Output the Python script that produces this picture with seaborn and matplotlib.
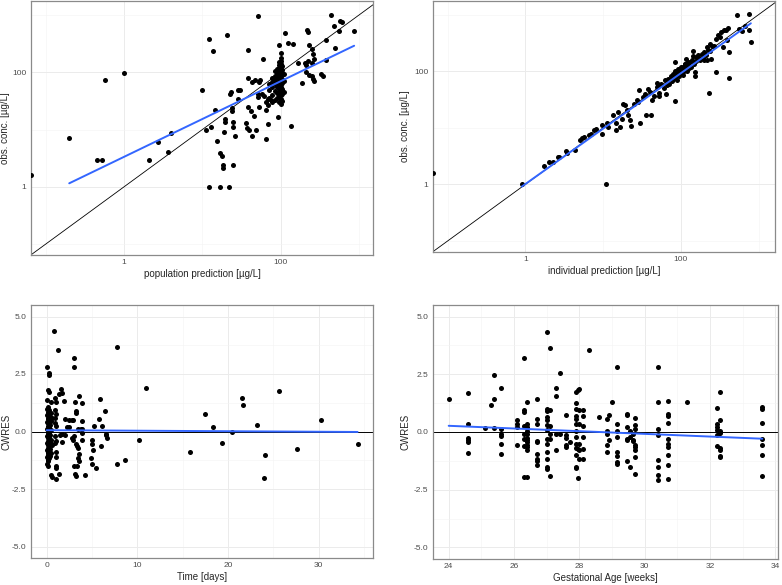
import numpy as np
import pandas as pd
import matplotlib
matplotlib.use("Agg")
import matplotlib.pyplot as plt
import matplotlib.ticker as mticker
import seaborn as sns

sns.set_theme(style="white")
plt.rcParams["font.family"] = ["Liberation Sans", "DejaVu Sans"]

# ---- data ----
# population prediction vs observed (ug/L); pred 0 -> drawn at the left edge
pop_pairs = [
    (0, 1.6), (0.2, 7.2), (0.45, 3.0), (0.52, 3.0), (0.58, 75), (1.0, 96), (2.1, 2.95),
    (2.7, 6.0), (3.6, 4.0), (4.0, 8.7), (10, 50), (11, 9.8), (12.2, 1.0), (12.3, 389),
    (12.9, 11.2), (13.8, 234), (14.5, 21.9), (15.5, 6.2), (17, 1.0), (17, 3.9), (17.8, 3.5),
    (18.2, 2.45), (18.2, 2.1), (19, 9.1), (19.5, 15.5), (19.5, 13.5), (20.4, 457), (21.9, 1.0),
    (22.4, 41.7), (23.4, 44.7), (24, 21.4), (24, 23.4), (24.5, 13.8), (24.5, 11), (24.5, 2.4),
    (26.3, 7.6), (28.2, 50), (30.2, 49), (28.8, 34.7), (36.3, 13.2), (37.2, 10.7), (38, 81),
    (38, 245), (38.9, 24.5), (39.8, 9.8), (41.7, 21.4), (42.7, 67.6), (43.7, 7.6), (45.7, 17),
    (46.8, 72.4), (49, 9.8), (51.3, 977), (51.3, 41.7), (51.3, 37), (52.5, 25), (53.7, 67.6),
    (55, 72.4), (60, 170), (66, 6.8), (69, 12.6), (69, 34.7), (66, 22), (93, 16.6), (95, 302),
    (102, 219), (115, 479), (123, 331), (135, 11.7), (145, 316), (166, 148), (186, 66),
    (204, 148), (214, 132), (224, 159), (234, 302), (251, 257), (263, 209), (269, 170),
    (251, 148), (214, 100), (234, 91), (251, 85), (263, 78), (269, 72), (324, 95), (347, 87),
    (380, 162), (380, 363), (437, 1023), (479, 646), (490, 263), (550, 525), (575, 776),
    (603, 759), (870, 525), (219, 550), (224, 501),
    (62, 38), (66, 30), (70, 27), (75, 33), (58, 42),
]
# dense cluster around pred ~ 100: pred -> observed values
pop_cluster = {
    100: [28, 34, 40, 47, 55, 63, 72, 80, 90, 100, 112, 125, 140, 160, 180],
    96: [30, 38, 45, 52, 60, 68, 76, 85, 95, 106, 118, 132, 150],
    105: [32, 42, 52, 64, 78, 92, 110, 130],
    90: [35, 44, 56, 70, 82, 98, 115],
    85: [33, 48, 62, 75, 88, 105],
    78: [30, 40, 55, 68, 80],
    72: [36, 50, 62],
    110: [45, 70, 95],
}

# individual prediction vs observed (ug/L)
ind_pairs = [
    (0, 1.6), (0.9, 1.0), (11, 1.0), (1.74, 2.15), (2.03, 2.46), (2.3, 2.45), (2.6, 3.0),
    (2.75, 3.0), (3.3, 3.9), (3.4, 3.55), (4.4, 4.0), (5.0, 6.1), (5.3, 6.6), (5.7, 7.0),
    (6.5, 7.5), (6.9, 7.8), (7.6, 9.2), (8.1, 9.4), (9.8, 7.8), (9.8, 11.2), (11.3, 12),
    (11.5, 10.2), (13.5, 16.7), (14.6, 12), (14.8, 9.2), (15.6, 19.2), (16.7, 10.2),
    (17.4, 14.1), (18.2, 26), (19, 25), (20, 21), (21, 16.5), (22, 14), (23, 10.7), (25, 26),
    (27, 31), (28, 28), (29, 46), (29.5, 12.3), (33, 35), (35, 40), (38, 48), (40, 43),
    (36, 16.7), (41, 16.7), (42, 31), (45, 36), (49, 62), (51, 56), (52, 37), (64, 39),
    (84, 30), (84, 145), (112, 135), (118, 166), (123, 148), (150, 96), (151, 83), (145, 186),
    (145, 229), (174, 155), (200, 155), (214, 155), (229, 41.5), (245, 166), (282, 96),
    (214, 263), (240, 302), (270, 282), (282, 372), (302, 437), (316, 398), (324, 490),
    (355, 525), (380, 525), (407, 575), (347, 263), (417, 214), (417, 76), (389, 355),
    (525, 977), (562, 550), (603, 513), (661, 631), (759, 1023), (741, 525), (794, 324),
    (50, 52), (52, 42), (56, 60), (60, 50), (63, 69), (66, 56), (69, 72), (71, 60), (74, 83),
    (76, 66), (79, 89), (79, 72), (83, 76), (85, 100), (87, 85), (89, 71), (91, 95), (93, 110),
    (95, 83), (98, 102), (100, 91), (100, 120), (102, 107), (105, 87), (107, 117), (110, 100),
    (112, 132), (115, 107), (117, 120), (120, 100), (123, 132), (126, 115), (132, 145),
    (135, 120), (141, 158), (148, 132), (155, 178), (158, 151), (166, 191), (178, 166),
    (186, 200), (191, 174), (200, 214), (209, 191), (224, 240), (240, 224), (251, 275),
]

# CWRES vs time (days): time -> CWRES values
time_cwres = {
    0.0: [2.8, 1.36, 1.0, 0.7, 0.4, 0.1, -0.2, -0.5, -0.8, -1.1, -1.4],
    0.1: [0.75, 0.55, 0.25, 0.0, -0.3, -0.6, -0.9, -1.2, -1.25],
    0.2: [1.82, 1.05, 0.85, 0.6, 0.35, 0.15, -0.1, -0.4, -0.7, -1.0, -1.3, -1.5, -0.95],
    0.26: [2.54],
    0.3: [2.44, 1.7, 0.95, 0.5, 0.2, -0.05, -0.25, -0.55, -0.85, -1.15, -0.65],
    0.4: [0.65, 0.3, -0.15, -0.45, -0.75, -1.05],
    0.5: [1.3, 0.8, 0.45, 0.05, -0.35, -0.95, -1.9],
    0.65: [0.6, -0.6, -1.98],
    0.8: [4.35],
    0.9: [1.46, 0.95, 0.59, 0.38, -0.2, -0.5],
    1.0: [1.3, 0.74, 0.23, -0.4, -0.9, -1.1, -1.5, -1.6, -2.05],
    1.28: [3.55],
    1.35: [1.65, -1.84],
    1.47: [-0.17],
    1.58: [1.85],
    1.65: [1.68, -0.13],
    1.72: [-0.45],
    1.9: [1.32],
    2.0: [0.55, -0.17],
    2.3: [0.2],
    2.5: [0.52, 0.2],
    2.75: [0.52, -0.27],
    2.9: [0.52, -0.35],
    3.0: [3.2, 2.8, -0.2, -1.5],
    3.1: [1.3, -1.86],
    3.2: [0.88, 0.81, -0.56, -1.94],
    3.4: [-0.64, -1.5],
    3.5: [0.13, -0.71, -1.14],
    3.56: [1.56],
    3.6: [-0.97, -1.29],
    3.8: [0.13],
    3.96: [1.24, 0.45, 0.13, -0.06, -0.35],
    4.2: [-1.9],
    4.95: [-1.14],
    5.0: [-1.43],
    5.06: [-0.35, -0.56],
    5.1: [-0.81],
    5.24: [0.26],
    5.5: [-1.58],
    5.76: [0.55],
    5.87: [1.43],
    6.0: [-0.64],
    6.1: [0.23],
    6.4: [0.91],
    6.5: [-0.09],
    6.6: [-0.17],
    6.7: [-0.27],
    7.8: [3.67, -1.43],
    8.6: [-1.24],
    10.2: [-0.35],
    11.0: [1.89],
    15.8: [-0.9],
    17.5: [0.74],
    18.4: [0.2],
    19.3: [-0.49],
    20.5: [-0.03],
    21.6: [1.46],
    21.7: [1.14],
    23.2: [0.3],
    24.0: [-2.04],
    24.1: [-1.03],
    25.6: [1.76],
    27.6: [-0.74],
    30.3: [0.49],
    34.3: [-0.56],
}

# CWRES vs gestational age (weeks): GA -> CWRES values
ga_cwres = {
    24.0: [1.43],
    24.6: [1.7, 0.35, -0.25, -0.35, -0.45, -0.9],
    25.1: [0.18],
    25.3: [1.15],
    25.4: [2.47, 1.45, 0.17],
    25.6: [1.9, 0.15, -0.1, -0.18, -0.5, -0.95],
    26.1: [0.5, 0.35, 0.2, -0.55],
    26.3: [3.2, 0.95, 0.85, 0.25, -0.1, -0.3, -0.6, -1.95],
    26.4: [1.28, 0.35, 0.2, 0.05, -0.1, -0.25, -0.35, -0.45, -0.55, -0.65, -0.8, -1.95],
    26.7: [1.45, 0.55, 0.35, -0.4, -0.45, -0.95, -1.15, -1.25, -1.45],
    27.0: [4.35, 1.0, 0.9, 0.65, 0.5, 0.3, 0.1, -0.3, -0.5, -0.85, -1.15, -1.5, -1.6],
    27.1: [3.65, 0.95, 0.25, -0.1, -0.3, -1.9],
    27.3: [1.9, 1.58, -0.1, -0.8],
    27.4: [2.55, -0.1],
    27.6: [0.75, -0.15, -0.25, -0.55, -0.65],
    27.7: [-0.45],
    27.9: [1.75, 1.25, 1.0, 0.7, 0.55, 0.35, 0.05, -0.2, -0.5, -0.7, -1.0, -1.5, -1.55],
    27.95: [1.8, -0.75, -2.0],
    28.0: [1.85, 0.95, 0.35, -0.5, -0.8, -1.15],
    28.1: [0.95, 0.7, 0.25, -0.2, -0.75, -1.15],
    28.3: [3.57],
    28.6: [0.65],
    28.85: [0.55, 0.05, -0.1, -0.55, -0.85],
    28.9: [0.75, -0.35],
    29.0: [1.32],
    29.15: [2.82, 0.35, 0.05, -0.2, -0.85, -1.05, -1.3, -1.4],
    29.45: [0.8, 0.75, 0.2, -0.3, -0.35, -1.25],
    29.55: [0.05, -0.2, -1.5],
    29.65: [-0.1, -0.35, -0.4],
    29.7: [0.6, 0.3, 0.15, -0.55, -0.65, -0.8, -1.1, -1.8],
    30.4: [2.82, 1.3, 0.15, -0.15, -1.2, -1.5, -1.85, -2.1],
    30.7: [1.35, 0.8, 0.7, 0.4, -0.3, -0.5, -0.65, -1.0, -1.45, -2.05],
    31.3: [1.28],
    32.2: [1.02, 0.35, 0.2, 0.1, -0.15, -0.6],
    32.3: [1.75, 0.5, 0.05, -0.05, -0.7, -0.8, -1.05, -1.1],
    33.6: [1.1, 1.0, 0.4, -0.3, -0.55, -1.0, -1.9],
}

# ---- build frames ----
pop_rows = list(pop_pairs) + [(p, o) for p, vals in pop_cluster.items() for o in vals]
pop_df = pd.DataFrame(pop_rows, columns=["pred", "obs"])
ind_df = pd.DataFrame(ind_pairs, columns=["pred", "obs"])
time_df = pd.DataFrame([(t, c) for t, vals in time_cwres.items() for c in vals], columns=["time", "cwres"])
ga_df = pd.DataFrame([(g, c) for g, vals in ga_cwres.items() for c in vals], columns=["ga", "cwres"])

W, H = 782, 585
fig = plt.figure(figsize=(W / 100, H / 100), dpi=100)
fig.patch.set_facecolor("white")


def add_ax(left, top, right, bottom):
    return fig.add_axes([left / W, 1 - bottom / H, (right - left) / W, (bottom - top) / H])


BLUE = "#3366FF"


def style(ax):
    ax.set_facecolor("white")
    for s in ax.spines.values():
        s.set_color("#8a8a8a")
        s.set_linewidth(0.9)
    ax.grid(True, which="major", color="#ebebeb", lw=0.7)
    ax.grid(True, which="minor", color="#f3f3f3", lw=0.4)
    ax.set_axisbelow(True)
    ax.tick_params(which="major", length=2, width=0.5, color="#333333",
                   labelsize=6, labelcolor="#4d4d4d", pad=1.2)
    ax.tick_params(which="minor", length=0)


def place_ylabel(ax, text, center_px, left_px, width_px):
    # the rotated label is anchored at its right edge; centre it on center_px
    ax.set_ylabel(text, fontsize=7)
    ax.yaxis.set_label_coords((center_px + 4.5 - left_px) / width_px, 0.5)


def obs_pred_panel(ax, df, xlabel, xlim, ylim):
    ax.set_xscale("log")
    ax.set_yscale("log")
    ax.set_xlim(xlim)
    ax.set_ylim(ylim)
    ax.axline((1, 1), (10, 10), color="black", lw=0.6, zorder=2)
    plot_df = df.copy()
    # prediction of 0 is -Inf on log scale: ggplot draws it on the panel edge
    plot_df.loc[plot_df["pred"] <= 0, "pred"] = xlim[0]
    sns.scatterplot(data=plot_df, x="pred", y="obs", ax=ax, color="black", s=13,
                    linewidth=0, zorder=3)
    fit = df[df["pred"] > 0]
    lx, ly = np.log10(fit["pred"]), np.log10(fit["obs"])
    b, a = np.polyfit(lx, ly, 1)
    xs = np.logspace(lx.min(), lx.max(), 50)
    sns.lineplot(x=xs, y=10 ** (a + b * np.log10(xs)), ax=ax, color=BLUE, lw=1.4, zorder=4)
    for axis in (ax.xaxis, ax.yaxis):
        axis.set_major_locator(mticker.FixedLocator([1, 100]))
        axis.set_major_formatter(mticker.FixedFormatter(["1", "100"]))
        axis.set_minor_locator(mticker.FixedLocator([0.1, 10, 1000]))
        axis.set_minor_formatter(mticker.NullFormatter())
    style(ax)
    ax.set_xlabel(xlabel, fontsize=7, labelpad=2)


def cwres_panel(ax, df, xcol, xlabel, xlim, major, minor):
    ax.axhline(0, color="black", lw=0.7, zorder=2)
    sns.regplot(data=df, x=xcol, y="cwres", ax=ax, ci=None,
                scatter_kws=dict(s=13, color="black", linewidths=0, alpha=1, zorder=3),
                line_kws=dict(color=BLUE, lw=1.4, zorder=4))
    ax.set_xlim(xlim)
    ax.set_ylim(-5.5, 5.5)
    ax.xaxis.set_major_locator(mticker.FixedLocator(major))
    ax.xaxis.set_major_formatter(mticker.FixedFormatter([str(v) for v in major]))
    ax.xaxis.set_minor_locator(mticker.FixedLocator(minor))
    ax.yaxis.set_major_locator(mticker.FixedLocator([-5, -2.5, 0, 2.5, 5]))
    ax.yaxis.set_major_formatter(mticker.FixedFormatter(["-5.0", "-2.5", "0.0", "2.5", "5.0"]))
    ax.yaxis.set_minor_locator(mticker.FixedLocator([-3.75, -1.25, 1.25, 3.75]))
    style(ax)
    ax.set_xlabel(xlabel, fontsize=7, labelpad=2)


ax1 = add_ax(31, 1, 373, 255)
obs_pred_panel(ax1, pop_df, "population prediction [\u00b5g/L]", (0.065, 1514), (0.0646, 1762))
place_ylabel(ax1, "obs. conc. [\u00b5g/L]", 5.5, 31, 342)

ax2 = add_ax(433, 1, 775, 252)
obs_pred_panel(ax2, ind_df, "individual prediction [\u00b5g/L]", (0.065, 1622), (0.064, 1738))
place_ylabel(ax2, "obs. conc. [\u00b5g/L]", 406, 433, 342)

ax3 = add_ax(31, 305, 373, 558)
cwres_panel(ax3, time_df, "time", "Time [days]", (-1.72, 36.0), [0, 10, 20, 30], [5, 15, 25, 35])
place_ylabel(ax3, "CWRES", 7, 31, 342)

ax4 = add_ax(433, 305, 778, 559)
cwres_panel(ax4, ga_df, "ga", "Gestational Age [weeks]", (23.52, 34.08),
            [24, 26, 28, 30, 32, 34], [25, 27, 29, 31, 33])
place_ylabel(ax4, "CWRES", 406, 433, 345)

fig.savefig("out.png", dpi=100, facecolor="white")
